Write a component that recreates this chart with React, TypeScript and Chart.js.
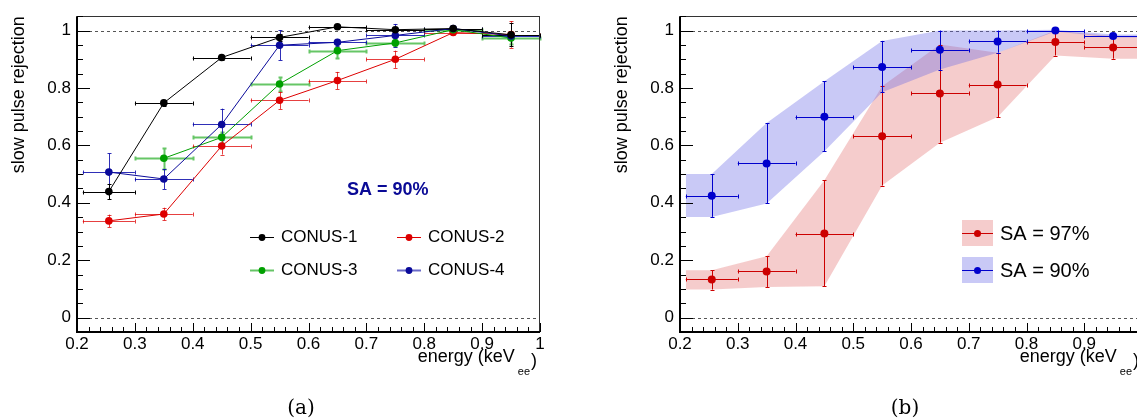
import React, { useEffect, useRef } from 'react';
import { Chart, registerables } from 'chart.js';
Chart.register(...registerables);

// ---------- data ----------
const xCenters = [0.255, 0.35, 0.45, 0.55, 0.65, 0.75, 0.85, 0.95];
const xLow = [0.21, 0.3, 0.4, 0.5, 0.6, 0.7, 0.8, 0.9];
const xHigh = [0.3, 0.4, 0.5, 0.6, 0.7, 0.8, 0.9, 1.0];

const seriesLabels = ['CONUS-1', 'CONUS-2', 'CONUS-3', 'CONUS-4'];
const conus1 = [0.439, 0.748, 0.906, 0.976, 1.013, 1.003, 1.007, 0.985];
const conus1Err = [0.027, 0.01, 0.01, 0.012, 0.006, 0.006, 0.005, 0.04];
const conus2 = [0.337, 0.361, 0.598, 0.757, 0.826, 0.9, 0.993, 0.986];
const conus2Err = [0.022, 0.022, 0.03, 0.03, 0.03, 0.03, 0.01, 0.046];
const conus3 = [null, 0.555, 0.628, 0.814, 0.93, 0.957, 1.003, 0.974];
const conus3Err = [0, 0.037, 0.02, 0.025, 0.025, 0.012, 0.006, 0.02];
const conus4 = [0.507, 0.483, 0.673, 0.949, 0.959, 0.983, 1.007, 0.981];
const conus4Err = [0.065, 0.035, 0.055, 0.052, 0.012, 0.04, 0.006, 0.012];

const bandLabels = ['SA = 97%', 'SA = 90%'];
const sa97 = [0.133, 0.161, 0.293, 0.632, 0.781, 0.812, 0.96, 0.941];
const sa97Up = [0.165, 0.214, 0.479, 0.806, 0.951, 0.923, 1.0, 0.98];
const sa97Down = [0.098, 0.107, 0.109, 0.46, 0.609, 0.699, 0.913, 0.902];
const sa90 = [0.425, 0.537, 0.7, 0.873, 0.933, 0.962, 1.0, 0.981];
const sa90Up = [0.5, 0.678, 0.823, 0.964, 1.0, 1.0, 1.003, 0.986];
const sa90Down = [0.351, 0.398, 0.58, 0.785, 0.864, 0.923, 0.997, 0.976];

const xTickValues = [0.2, 0.3, 0.4, 0.5, 0.6, 0.7, 0.8, 0.9, 1.0];
const yTickValues = [0, 0.2, 0.4, 0.6, 0.8, 1.0];
const refLines = [0, 1];
const xRange = [0.2, 1.0];
const yRange = [-0.05, 1.05];

// ---------- style ----------
const FONT = '"Liberation Sans", Arial, Helvetica, sans-serif';
const C_BLACK = '#000000';
const C_RED = '#dd0000';
const C_GREEN = '#00a000';
const C_BLUE = '#0a0a9a';
const C_RED2 = '#cc0000';
const C_BLUE2 = '#0000cc';
const BAND_RED = 'rgba(230,120,120,0.38)';
const BAND_BLUE = 'rgba(100,100,230,0.35)';

const fmt = (v: number) => String(Math.round(v * 10) / 10);

type ErrSeries = {
  y: (number | null)[];
  el: number[];
  eh: number[];
  color: string;
  width?: number;
};

type Cfg = {
  errors: ErrSeries[];
  errAfter: number | null;
  extra: (ctx: CanvasRenderingContext2D, a: any) => void;
};

function crisp(v: number) {
  return Math.round(v) + 0.5;
}

function makeRootPlugin(cfg: Cfg) {
  const drawErrors = (chart: any) => {
    const { ctx, scales } = chart;
    const x = scales.x;
    const y = scales.y;
    ctx.save();
    for (const s of cfg.errors) {
      ctx.strokeStyle = s.color;
      ctx.lineWidth = s.width || 1;
      for (let i = 0; i < xCenters.length; i++) {
        const v = s.y[i];
        if (v == null) continue;
        const px = crisp(x.getPixelForValue(xCenters[i]));
        const py = crisp(y.getPixelForValue(v));
        const x1 = x.getPixelForValue(xLow[i]);
        const x2 = x.getPixelForValue(xHigh[i]);
        const y1 = y.getPixelForValue(v + s.eh[i]);
        const y2 = y.getPixelForValue(v - s.el[i]);
        ctx.beginPath();
        ctx.moveTo(x1, py);
        ctx.lineTo(x2, py);
        ctx.moveTo(crisp(x1), py - 2);
        ctx.lineTo(crisp(x1), py + 2);
        ctx.moveTo(crisp(x2), py - 2);
        ctx.lineTo(crisp(x2), py + 2);
        if (Math.abs(y2 - y1) > 1) {
          ctx.moveTo(px, y1);
          ctx.lineTo(px, y2);
          ctx.moveTo(px - 2, crisp(y1));
          ctx.lineTo(px + 2, crisp(y1));
          ctx.moveTo(px - 2, crisp(y2));
          ctx.lineTo(px + 2, crisp(y2));
        }
        ctx.stroke();
      }
    }
    ctx.restore();
  };

  return {
    id: 'rootStyle',
    beforeDatasetsDraw(chart: any) {
      const { ctx, chartArea: a, scales } = chart;
      ctx.save();
      ctx.strokeStyle = '#555';
      ctx.lineWidth = 1;
      ctx.setLineDash([3, 3]);
      for (const v of refLines) {
        const py = crisp(scales.y.getPixelForValue(v));
        ctx.beginPath();
        ctx.moveTo(a.left, py);
        ctx.lineTo(a.right, py);
        ctx.stroke();
      }
      ctx.restore();
      if (cfg.errAfter == null) drawErrors(chart);
    },
    afterDatasetDraw(chart: any, args: any) {
      if (cfg.errAfter === args.index) drawErrors(chart);
    },
    afterDraw(chart: any) {
      const { ctx, chartArea: a, scales } = chart;
      const x = scales.x;
      const y = scales.y;
      ctx.save();
      // frame
      ctx.strokeStyle = '#333';
      ctx.lineWidth = 1;
      ctx.beginPath();
      ctx.moveTo(a.left, crisp(a.top));
      ctx.lineTo(a.right, crisp(a.top));
      ctx.moveTo(crisp(a.right - 1), a.top);
      ctx.lineTo(crisp(a.right - 1), a.bottom);
      ctx.stroke();
      ctx.strokeStyle = '#000';
      ctx.lineWidth = 2;
      ctx.beginPath();
      ctx.moveTo(a.left, a.top);
      ctx.lineTo(a.left, a.bottom);
      ctx.moveTo(a.left - 1, a.bottom);
      ctx.lineTo(a.right, a.bottom);
      ctx.stroke();
      // ticks
      ctx.lineWidth = 1;
      ctx.beginPath();
      for (let k = 0; k <= 22; k++) {
        const v = yRange[0] + k * 0.05;
        const py = crisp(y.getPixelForValue(v));
        const major = yTickValues.some((t) => Math.abs(t - v) < 1e-6);
        ctx.moveTo(a.left, py);
        ctx.lineTo(a.left + (major ? 13 : 6), py);
      }
      for (let k = 0; k <= 40; k++) {
        const v = xRange[0] + k * 0.02;
        const px = crisp(x.getPixelForValue(v));
        const major = xTickValues.some((t) => Math.abs(t - v) < 1e-6);
        ctx.moveTo(px, a.bottom);
        ctx.lineTo(px, a.bottom - (major ? 9 : 5));
      }
      ctx.stroke();
      // y title
      ctx.fillStyle = '#000';
      ctx.font = `18px ${FONT}`;
      ctx.save();
      ctx.translate(a.left - 53, a.top);
      ctx.rotate(-Math.PI / 2);
      ctx.textAlign = 'right';
      ctx.textBaseline = 'alphabetic';
      ctx.fillText('slow pulse rejection', 0, 0);
      ctx.restore();
      // x title with subscript
      const main = 'energy (keV';
      ctx.font = `18px ${FONT}`;
      const mainW = ctx.measureText(main).width;
      const parW = ctx.measureText(')').width;
      ctx.font = `11px ${FONT}`;
      const subW = ctx.measureText('ee').width;
      const total = mainW + 3 + subW + 1 + parW;
      const x0 = a.right - 3 - total;
      const base = 362;
      ctx.textAlign = 'left';
      ctx.font = `18px ${FONT}`;
      ctx.fillText(main, x0, base);
      ctx.font = `11px ${FONT}`;
      ctx.fillText('ee', x0 + mainW + 3, base + 12.5);
      ctx.font = `18px ${FONT}`;
      ctx.fillText(')', x0 + mainW + 3 + subW + 1, base + 4);
      cfg.extra(ctx, a);
      ctx.restore();
    },
  };
}

function baseScales(yAxisWidth: number) {
  return {
    x: {
      type: 'linear',
      min: xRange[0],
      max: xRange[1],
      grid: { display: false, drawTicks: false },
      border: { display: false },
      afterBuildTicks: (s: any) => {
        s.ticks = xTickValues.map((v) => ({ value: v }));
      },
      afterFit: (s: any) => {
        s.height = 87;
      },
      ticks: {
        padding: 2,
        color: '#000',
        maxRotation: 0,
        autoSkip: false,
        font: { family: FONT, size: 17 },
        callback: (v: any) => fmt(Number(v)),
      },
    },
    y: {
      type: 'linear',
      min: yRange[0],
      max: yRange[1],
      grid: { display: false, drawTicks: false },
      border: { display: false },
      afterBuildTicks: (s: any) => {
        s.ticks = yTickValues.map((v) => ({ value: v }));
      },
      afterFit: (s: any) => {
        s.width = yAxisWidth;
      },
      ticks: {
        padding: 6,
        color: '#000',
        autoSkip: false,
        font: { family: FONT, size: 17 },
        callback: (v: any) => fmt(Number(v)),
      },
    },
  };
}

const pts = (ys: (number | null)[]) =>
  xCenters.map((x, i) => ({ x, y: ys[i] })).filter((p) => p.y != null);

const bandPts = (ys: number[]) => [
  { x: xLow[0], y: ys[0] },
  ...xCenters.map((x, i) => ({ x, y: ys[i] })),
  { x: xHigh[xHigh.length - 1], y: ys[ys.length - 1] },
];

function lineDs(label: string, ys: (number | null)[], color: string, showLine: boolean, r: number) {
  return {
    type: 'line',
    label,
    data: pts(ys),
    borderColor: color,
    backgroundColor: color,
    borderWidth: 1,
    showLine,
    fill: false,
    tension: 0,
    pointRadius: r,
    pointBorderWidth: 0,
    pointBackgroundColor: color,
  };
}

function leftConfig(): any {
  const colors = [C_BLACK, C_RED, C_GREEN, C_BLUE];
  const legendLine = [C_BLACK, C_RED, '#66c466', '#6b6bc8'];
  const plugin = makeRootPlugin({
    errAfter: null,
    errors: [
      { y: conus3, el: conus3Err, eh: conus3Err, color: 'rgba(0,160,0,0.6)', width: 2 },
      { y: conus2, el: conus2Err, eh: conus2Err, color: 'rgba(221,0,0,0.75)' },
      { y: conus4, el: conus4Err, eh: conus4Err, color: 'rgba(10,10,170,0.85)' },
      { y: conus1, el: conus1Err, eh: conus1Err, color: C_BLACK },
    ],
    extra: (ctx, a) => {
      for (let i = 0; i < 4; i++) {
        const col = i % 2;
        const row = Math.floor(i / 2);
        const lx = a.left + 173 + col * 147;
        const ly = a.top + 220.5 + row * 33;
        ctx.strokeStyle = legendLine[i];
        ctx.lineWidth = i >= 2 ? 2 : 1;
        ctx.beginPath();
        ctx.moveTo(lx, Math.round(ly) + 0.5);
        ctx.lineTo(lx + 24, Math.round(ly) + 0.5);
        ctx.stroke();
        ctx.fillStyle = colors[i];
        ctx.beginPath();
        ctx.arc(lx + 12, Math.round(ly) + 0.5, 3.4, 0, Math.PI * 2);
        ctx.fill();
        ctx.fillStyle = '#000';
        ctx.font = `17px ${FONT}`;
        ctx.textAlign = 'left';
        ctx.textBaseline = 'middle';
        ctx.fillText(seriesLabels[i], lx + 31, ly + 1);
      }
      ctx.fillStyle = '#0a0a96';
      ctx.font = `bold 18px ${FONT}`;
      ctx.textAlign = 'left';
      ctx.textBaseline = 'alphabetic';
      ctx.fillText('SA = 90%', a.left + 270, 195);
    },
  });
  return {
    type: 'line',
    data: {
      datasets: [
        lineDs(seriesLabels[0], conus1, colors[0], true, 3.8),
        lineDs(seriesLabels[3], conus4, colors[3], true, 3.8),
        lineDs(seriesLabels[2], conus3, colors[2], true, 3.8),
        lineDs(seriesLabels[1], conus2, colors[1], true, 3.8),
      ],
    },
    options: {
      responsive: false,
      animation: false,
      devicePixelRatio: 1,
      events: [],
      layout: { padding: { left: 0, right: 20, top: 15, bottom: 0 } },
      plugins: { legend: { display: false }, tooltip: { enabled: false } },
      scales: baseScales(77),
    },
    plugins: [plugin],
  };
}

function rightConfig(): any {
  const plugin = makeRootPlugin({
    errAfter: 2,
    errors: [
      { y: sa97, el: sa97.map((v, i) => v - sa97Down[i]), eh: sa97.map((v, i) => sa97Up[i] - v), color: C_RED2 },
      { y: sa90, el: sa90.map((v, i) => v - sa90Down[i]), eh: sa90.map((v, i) => sa90Up[i] - v), color: C_BLUE2 },
    ],
    extra: (ctx, a) => {
      const fills = [BAND_RED, BAND_BLUE];
      const cols = [C_RED2, C_BLUE2];
      for (let i = 0; i < 2; i++) {
        const bx = a.left + 282;
        const cy = 233 + i * 37;
        ctx.fillStyle = fills[i];
        ctx.fillRect(bx, cy - 13, 31, 26);
        ctx.strokeStyle = cols[i];
        ctx.lineWidth = 1;
        ctx.beginPath();
        ctx.moveTo(bx, cy + 0.5);
        ctx.lineTo(bx + 31, cy + 0.5);
        ctx.stroke();
        ctx.fillStyle = cols[i];
        ctx.beginPath();
        ctx.arc(bx + 15.5, cy + 0.5, 3.5, 0, Math.PI * 2);
        ctx.fill();
        ctx.fillStyle = '#000';
        ctx.font = `20px ${FONT}`;
        ctx.textAlign = 'left';
        ctx.textBaseline = 'middle';
        ctx.fillText(bandLabels[i], a.left + 320, cy + 1.5);
      }
    },
  });
  const band = (ys: number[], fill: any, color: string) => ({
    type: 'line',
    data: bandPts(ys),
    borderWidth: 0,
    borderColor: 'rgba(0,0,0,0)',
    backgroundColor: color,
    pointRadius: 0,
    fill,
    tension: 0,
  });
  return {
    type: 'line',
    data: {
      datasets: [
        lineDs(bandLabels[1], sa90, C_BLUE2, false, 4),
        lineDs(bandLabels[0], sa97, C_RED2, false, 4),
        band(sa90Up, '+1', BAND_BLUE),
        band(sa90Down, false, BAND_BLUE),
        band(sa97Up, '+1', BAND_RED),
        band(sa97Down, false, BAND_RED),
      ],
    },
    options: {
      responsive: false,
      animation: false,
      devicePixelRatio: 1,
      events: [],
      layout: { padding: { left: 0, right: 38, top: 15, bottom: 0 } },
      plugins: { legend: { display: false }, tooltip: { enabled: false } },
      scales: baseScales(120),
    },
    plugins: [plugin],
  };
}

const captionStyle = (cx: number): React.CSSProperties => ({
  position: 'absolute',
  left: cx,
  top: 407,
  transform: 'translate(-50%, -50%)',
  fontFamily: '"DejaVu Serif", "Liberation Serif", serif',
  fontSize: 20,
  lineHeight: 1,
  color: '#000',
  whiteSpace: 'nowrap',
});

export default function App() {
  const leftRef = useRef<HTMLCanvasElement>(null);
  const rightRef = useRef<HTMLCanvasElement>(null);
  useEffect(() => {
    const c1 = new Chart(leftRef.current as HTMLCanvasElement, leftConfig());
    const c2 = new Chart(rightRef.current as HTMLCanvasElement, rightConfig());
    return () => {
      c1.destroy();
      c2.destroy();
    };
  }, []);
  return (
    <div
      style={{
        position: 'fixed',
        left: 0,
        top: 0,
        width: 1137,
        height: 419,
        overflow: 'hidden',
        background: '#fff',
      }}
    >
      <canvas
        ref={leftRef}
        width={560}
        height={419}
        style={{ position: 'absolute', left: 0, top: 0, width: 560, height: 419 }}
      />
      <canvas
        ref={rightRef}
        width={620}
        height={419}
        style={{ position: 'absolute', left: 560, top: 0, width: 620, height: 419 }}
      />
      <div style={captionStyle(301)}>(a)</div>
      <div style={captionStyle(905)}>(b)</div>
    </div>
  );
}
